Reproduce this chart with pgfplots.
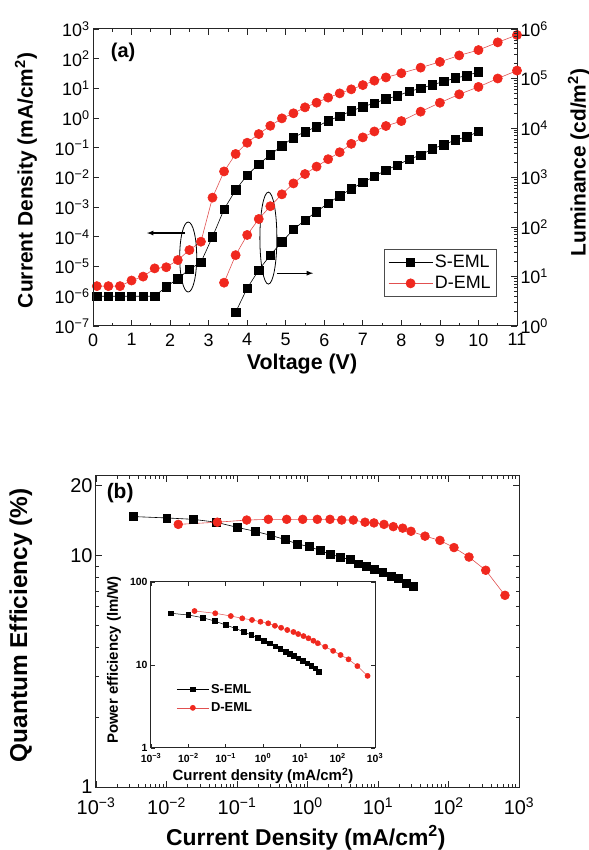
\documentclass[border=0pt]{standalone}
\usepackage{pgfplots}
\pgfplotsset{compat=1.18}
\usepackage{fontspec}
\setmainfont{Liberation Sans}
\definecolor{dred}{RGB}{240,40,30}
\definecolor{lred}{RGB}{225,80,80}

\pgfplotsset{
  base/.style={
    scale only axis,
    /pgf/number format/assume math mode=true,
    axis line style={line width=1bp, black!85},
    major tick length=6bp, minor tick length=3bp,
    every tick/.style={black!85, line width=0.8bp},
    tick align=inside,
    tick label style={font=\fontsize{18}{20}\selectfont},
  },
  sq/.style={black, line width=0.6bp, mark=square*, mark size=4.2bp, mark options={solid, fill=black}},
  ci/.style={lred, line width=0.6bp, mark=*, mark size=4.6bp, mark options={solid, draw=dred, fill=dred}},
  sqs/.style={black, line width=0.5bp, mark=square*, mark size=2.3bp, mark options={solid, fill=black}},
  cis/.style={lred, line width=0.5bp, mark=*, mark size=2.6bp, mark options={solid, draw=dred, fill=dred}},
}

\begin{document}
\begin{tikzpicture}
\path[use as bounding box] (0bp,0bp) rectangle (589bp,850bp);

% ---------------- panel (a): current density (left axis)
\begin{axis}[base,
  at={(93bp,524bp)}, anchor=south west,
  width=424bp, height=297bp,
  xmin=0, xmax=11, ymode=log, ymin=1e-7, ymax=1e3,
  xtick={0,1,...,11}, minor x tick num=1,
  xticklabel style={yshift=-4bp},
  ytick={1e-7,1e-6,1e-5,1e-4,1e-3,1e-2,1e-1,1,10,100,1000},
  yticklabels={10\textsuperscript{−7},10\textsuperscript{−6},10\textsuperscript{−5},10\textsuperscript{−4},10\textsuperscript{−3},10\textsuperscript{−2},10\textsuperscript{−1},10\textsuperscript{0},10\textsuperscript{1},10\textsuperscript{2},10\textsuperscript{3}},
  yminorticks=false, ytick pos=left,
  xlabel={Voltage (V)},
  ylabel={Current Density (mA/cm\textsuperscript{2})},
  every axis y label/.style={at={(axis description cs:-0.158,0.49)}, rotate=90, anchor=center,
    font=\bfseries\fontsize{21}{23}\selectfont},
  every axis x label/.style={at={(axis description cs:0.493,-0.128)}, anchor=center,
    font=\bfseries\fontsize{21.5}{23}\selectfont},
  legend style={at={(axis description cs:0.953,0.259)}, anchor=north east,
    draw=black!70, line width=0.8bp, fill=white,
    font=\fontsize{18}{20}\selectfont, inner sep=4bp, row sep=3bp},
  legend cell align=left,
  legend image code/.code={\draw[mark repeat=2, mark phase=2] plot coordinates {(0bp,0bp) (22bp,0bp) (44bp,0bp)};},
]
\addplot[sq] coordinates {
(0.1,1.0e-6) (0.4,1.0e-6) (0.7,1.0e-6) (1.0,1.0e-6) (1.3,1.0e-6) (1.6,1.0e-6)
(1.9,2.1e-6) (2.2,3.9e-6) (2.5,8.1e-6) (2.8,1.4e-5) (3.1,1.0e-4) (3.4,8.5e-4)
(3.7,3.8e-3) (4.0,1.2e-2) (4.3,2.8e-2) (4.6,5.8e-2) (4.9,0.117) (5.2,0.22)
(5.5,0.35) (5.8,0.51) (6.1,0.81) (6.4,1.17) (6.7,1.74) (7.0,2.4) (7.3,3.2)
(7.6,4.4) (7.9,5.6) (8.2,7.9) (8.5,10.0) (8.8,13.2) (9.1,17.0) (9.4,22.4)
(9.7,26.9) (10.0,36.3)
};
\addlegendentry{S-EML}
\addplot[ci] coordinates {
(0.1,2.2e-6) (0.4,2.2e-6) (0.7,2.2e-6) (1.0,3.4e-6) (1.3,4.6e-6) (1.6,8.7e-6)
(1.9,9.5e-6) (2.2,1.66e-5) (2.5,3.6e-5) (2.8,6.9e-5) (3.1,2.1e-3) (3.4,1.6e-2)
(3.7,6.2e-2) (4.0,0.148) (4.3,0.29) (4.6,0.55) (4.9,0.98) (5.2,1.45) (5.5,2.3)
(5.8,3.3) (6.1,4.9) (6.4,6.8) (6.7,9.3) (7.0,12.9) (7.3,18.2) (7.6,23.4)
(8.0,32.4) (8.5,50) (9.0,78) (9.5,129) (10.0,195) (10.5,355) (11.0,630)
};
\addlegendentry{D-EML}

% annotations: ellipses and arrows
\draw[line width=0.8bp] (axis cs:2.47,2.1e-5) ellipse [x radius=8.5bp, y radius=35bp];
\draw[line width=1.2bp, -latex] (axis cs:2.39,1.35e-4) -- (axis cs:1.40,1.35e-4);
\draw[line width=0.8bp] (axis cs:4.55,9.1e-5) ellipse [x radius=8.5bp, y radius=46bp];
\draw[line width=1.2bp, -latex] (axis cs:4.78,6.0e-6) -- (axis cs:5.71,6.0e-6);
\node[font=\bfseries\fontsize{20}{22}\selectfont] at (rel axis cs:0.071,0.923) {(a)};
\end{axis}

% ---------------- panel (a): luminance (right axis)
\begin{axis}[base,
  at={(93bp,524bp)}, anchor=south west,
  width=424bp, height=297bp,
  xmin=0, xmax=11, hide x axis,
  ymode=log, ymin=1, ymax=1e6,
  ytick={1,10,100,1000,1e4,1e5,1e6},
  yticklabels={10\textsuperscript{0},10\textsuperscript{1},10\textsuperscript{2},10\textsuperscript{3},10\textsuperscript{4},10\textsuperscript{5},10\textsuperscript{6}},
  ytick pos=right, yticklabel pos=right,
  ylabel={Luminance (cd/m\textsuperscript{2})},
  every axis y label/.style={at={(axis description cs:1.146,0.55)}, rotate=90, anchor=center,
    font=\bfseries\fontsize{21}{23}\selectfont},
]
\addplot[sq] coordinates {
(3.7,1.9) (4.0,5.8) (4.3,13.5) (4.6,27) (4.9,50) (5.2,89) (5.5,138) (5.8,204)
(6.1,302) (6.4,427) (6.7,589) (7.0,794) (7.3,1047) (7.6,1413) (7.9,1778)
(8.2,2344) (8.5,2818) (8.8,3802) (9.1,4571) (9.4,5754) (9.7,6607) (10.0,8511)
};
\addplot[ci] coordinates {
(3.4,7.5) (3.7,27) (4.0,69) (4.3,145) (4.6,263) (4.9,457) (5.2,759) (5.5,1175)
(5.8,1660) (6.1,2344) (6.4,3236) (6.7,4786) (7.0,6457) (7.3,8511) (7.6,10965)
(8.0,13800) (8.5,21380) (9.0,32360) (9.5,47860) (10.0,67600) (10.5,100000)
(11.0,144500)
};
\end{axis}

% ---------------- panel (b): quantum efficiency
\begin{axis}[base,
  at={(96bp,63bp)}, anchor=south west,
  width=423bp, height=311bp,
  xmode=log, ymode=log,
  xmin=1e-3, xmax=1e3, ymin=1, ymax=22,
  xtick={1e-3,1e-2,1e-1,1,10,100,1000},
  xticklabels={10\textsuperscript{−3},10\textsuperscript{−2},10\textsuperscript{−1},10\textsuperscript{0},10\textsuperscript{1},10\textsuperscript{2},10\textsuperscript{3}},
  ytick={1,10}, yticklabels={1,10},
  extra y ticks={20}, extra y tick labels={20},
  tick label style={font=\fontsize{20}{22}\selectfont},
  xticklabel style={yshift=-7bp},
  xlabel={Current Density (mA/cm\textsuperscript{2})},
  ylabel={Quantum Efficiency (\%)},
  every axis y label/.style={at={(axis description cs:-0.178,0.52)}, rotate=90, anchor=center,
    font=\bfseries\fontsize{24.5}{26}\selectfont},
  every axis x label/.style={at={(axis description cs:0.496,-0.164)}, anchor=center,
    font=\bfseries\fontsize{23}{25}\selectfont},
]
\addplot[sq, mark size=3.9bp] coordinates {
(0.00338,14.7) (0.01007,14.5) (0.0240,14.3) (0.0504,13.9) (0.1009,13.2)
(0.180,12.7) (0.301,12.2) (0.480,11.7) (0.716,11.2) (1.062,10.9) (1.503,10.5)
(2.133,10.1) (2.891,9.83) (4.009,9.58) (5.260,9.2) (6.761,8.97) (8.872,8.67)
(11.67,8.42) (15.28,8.14) (19.41,7.94) (24.95,7.6) (31.70,7.35)
};
\addplot[ci, mark size=4.4bp] coordinates {
(0.01469,13.6) (0.0526,13.9) (0.1374,14.2) (0.278,14.3) (0.507,14.3)
(0.855,14.3) (1.377,14.3) (2.084,14.3) (3.055,14.2) (4.467,14.2) (6.546,13.9)
(8.770,13.8) (12.16,13.6) (16.48,13.3) (22.39,13.1) (29.38,12.7) (46.45,12.1)
(75.68,11.6) (119.7,10.8) (195.4,9.83) (337.3,8.62) (632.4,6.72)
};
\node[font=\bfseries\fontsize{21}{23}\selectfont] at (rel axis cs:0.057,0.945) {(b)};
\end{axis}

% ---------------- inset: power efficiency
\begin{axis}[base,
  at={(151bp,102bp)}, anchor=south west,
  width=224bp, height=166bp,
  axis background/.style={fill=white},
  xmode=log, ymode=log,
  xmin=1e-3, xmax=1e3, ymin=1, ymax=100,
  xtick={1e-3,1e-2,1e-1,1,10,100,1000},
  xticklabels={10\textsuperscript{−3},10\textsuperscript{−2},10\textsuperscript{−1},10\textsuperscript{0},10\textsuperscript{1},10\textsuperscript{2},10\textsuperscript{3}},
  ytick={1,10,100}, yticklabels={1,10,100},
  xminorticks=false, yminorticks=false,
  major tick length=4bp,
  tick label style={font=\bfseries\fontsize{10.5}{11}\selectfont},
  xticklabel style={yshift=-2bp},
  xlabel={Current density (mA/cm\textsuperscript{2})},
  ylabel={Power efficiency (lm/W)},
  every axis y label/.style={at={(axis description cs:-0.165,0.53)}, rotate=90, anchor=center,
    font=\bfseries\fontsize{15}{16}\selectfont},
  every axis x label/.style={at={(axis description cs:0.5,-0.17)}, anchor=center,
    font=\bfseries\fontsize{15}{16}\selectfont},
  legend style={at={(axis description cs:0.1,0.41)}, anchor=north west,
    draw=none, fill=none, font=\bfseries\fontsize{13}{14}\selectfont, row sep=4bp},
  legend cell align=left,
  legend image code/.code={\draw[mark repeat=2, mark phase=2] plot coordinates {(0bp,0bp) (16bp,0bp) (32bp,0bp)};},
]
\addplot[sqs] coordinates {
(0.00338,42) (0.01007,40) (0.0240,37.2) (0.0504,33.9) (0.1009,30.3)
(0.180,27.7) (0.301,25.2) (0.480,23) (0.716,21.3) (1.062,19.6) (1.503,18.3)
(2.133,16.9) (2.891,15.8) (4.009,14.5) (5.260,13.6) (6.761,12.9) (8.872,12.0)
(11.67,11.2) (15.28,10.5) (19.41,9.8) (24.95,9.1) (31.70,8.3)
};
\addlegendentry{S-EML}
\addplot[cis] coordinates {
(0.01469,44.7) (0.0526,42) (0.1374,38.9) (0.278,36.5) (0.507,34.9)
(0.855,33.2) (1.377,31.8) (2.084,29.7) (3.055,28.1) (4.467,26.4) (6.546,25)
(8.770,23.6) (12.16,22.3) (16.48,21) (22.39,19.6) (29.38,18.3) (46.45,16.6)
(75.68,14.8) (119.7,13.2) (195.4,11.7) (337.3,9.7) (632.4,7.4)
};
\addlegendentry{D-EML}
\end{axis}
\end{tikzpicture}
\end{document}
